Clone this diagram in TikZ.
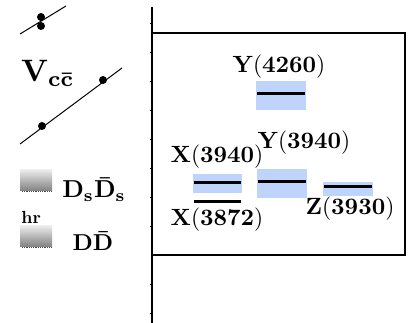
\documentclass[tikz,border=0pt]{standalone}
\usepackage{graphicx}
\usetikzlibrary{calc}
\definecolor{bandblue}{RGB}{190,212,250}
\tikzset{
  lvl/.style={line width=3pt,black},
  band/.style={fill=bandblue,draw=none},
  lab/.style={inner sep=0pt},
  dotpt/.style={circle,fill=black,inner sep=0pt,minimum size=8pt},
  thr/.style={top color=black!8,bottom color=black!50,draw=none},
}
\newcommand{\lbl}[2]{\scalebox{2.35}{\textbf{#1}(\textbf{#2})}}
\begin{document}
\begin{tikzpicture}[x=1pt,y=-1pt]
\useasboundingbox (0,0) rectangle (410,323);
% axis
\coordinate (axtop) at (152,7);
\coordinate (axbot) at (152,323);
\draw[line width=2pt] (axtop) -- (axbot);
\foreach \yy in {24,53,82,111,140,169,198,227,285,314}
  \draw[line width=1pt] (149.5,\yy) -- (151,\yy);
% box
\draw[line width=1.5pt] (152,33) rectangle (405,255);
% levels
\fill[band] (256,81) rectangle (306,110);
\draw[lvl] (257,94) -- (305,94);
\fill[band] (193,174) rectangle (242,193);
\draw[lvl] (194,183) -- (241,183);
\draw[lvl] (194,202) -- (241,202);
\fill[band] (257,169) rectangle (307,198);
\draw[lvl] (258,182) -- (306,182);
\fill[band] (323,182) rectangle (373,196);
\draw[lvl] (324,187) -- (372,187);
% labels
\node[lab] (y4260) at (279,67) {\lbl{Y}{4260}};
\node[lab] (x3940) at (217,157) {\lbl{X}{3940}};
\node[lab] (y3940) at (304,143) {\lbl{Y}{3940}};
\node[lab] (x3872) at (217,220) {\lbl{X}{3872}};
\node[lab] (z3930) at (350,209) {\lbl{Z}{3930}};
% left part
\coordinate (l1a) at (20,34);
\coordinate (l1b) at (66,6);
\draw[line width=1pt] (l1a) -- (l1b);
\node[dotpt] (d1) at (41,17) {};
\node[dotpt] (d2) at (41,26) {};
\coordinate (l2a) at (20,144);
\coordinate (l2b) at (122,68);
\draw[line width=1pt] (l2a) -- (l2b);
\node[dotpt] (d3) at (42,126) {};
\node[dotpt] (d4) at (103,80) {};
\node[inner sep=0pt,anchor=base west] (vcc) at (21,82) {\scalebox{3.1}{$\mathbf{V}_{\mathbf{c\bar c}}$}};
% thresholds
\shade[thr] (20,170) rectangle (52,191);
\draw[densely dotted,line width=0.8pt,black!70] (22,191) -- (52,191);
\shade[thr] (20,226) rectangle (52,247);
\draw[densely dotted,line width=0.8pt,black!70] (22,247) -- (52,247);
\node[inner sep=0pt,anchor=base] (dsds) at (94,198) {\scalebox{2.45}{$\mathbf{D_s\bar D_s}$}};
\node[inner sep=0pt,anchor=base] (dd) at (93,251) {\scalebox{2.3}{$\mathbf{D\bar D}$}};
\node[inner sep=0pt,anchor=base east] (hr) at (41,224) {\scalebox{1.75}{\textbf{hr}}};
\end{tikzpicture}
\end{document}
